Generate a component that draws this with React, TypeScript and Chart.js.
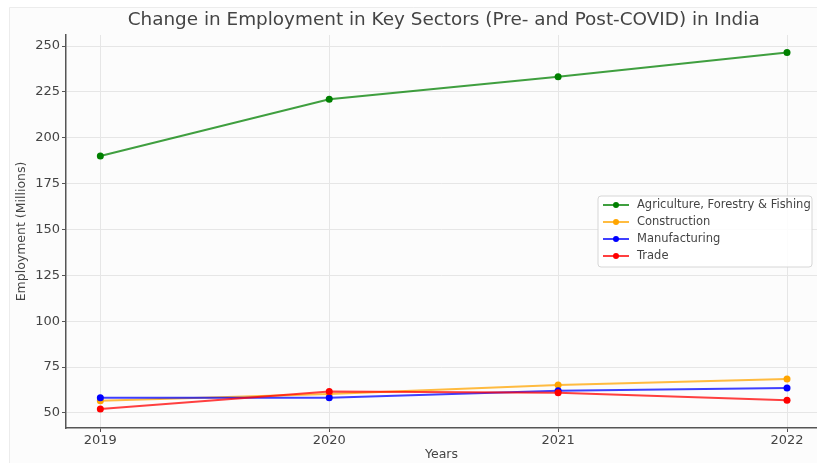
import React, { useEffect, useRef } from "react";
import { Chart, registerables } from "chart.js";

Chart.register(...registerables);

const years = [2019, 2020, 2021, 2022];
const agriculture = [190.1, 221.0, 233.2, 246.4];
const construction = [56.6, 60.3, 65.2, 68.5];
const manufacturing = [58.3, 58.3, 62.1, 63.6];
const trade = [52.2, 61.7, 61.0, 56.9];

const seriesNames = [
  "Agriculture, Forestry & Fishing",
  "Construction",
  "Manufacturing",
  "Trade",
];
const seriesValues = [agriculture, construction, manufacturing, trade];
const seriesColors = ["#008000", "#FFA500", "#0000FF", "#FF0000"];

const yTicks = [50, 75, 100, 125, 150, 175, 200, 225, 250];

const chartTitle = "Change in Employment in Key Sectors (Pre- and Post-COVID) in India";
const xTitle = "Years";
const yTitle = "Employment (Millions)";

const FONT = "'DejaVu Sans', 'Liberation Sans', sans-serif";
const TEXT = "#444444";
const SPINE = "#555555";
const GRID = "#e6e6e6";

const W = 817;
const H = 463;

const decorPlugin = {
  id: "decor",
  beforeDraw(chart: any) {
    const ctx = chart.ctx;
    ctx.save();
    ctx.fillStyle = "#ffffff";
    ctx.fillRect(0, 0, chart.width, chart.height);
    ctx.fillStyle = "#fcfcfc";
    ctx.fillRect(9, 7, chart.width - 9, chart.height - 7);
    ctx.strokeStyle = "#ececec";
    ctx.lineWidth = 1;
    ctx.beginPath();
    ctx.moveTo(9.5, chart.height);
    ctx.lineTo(9.5, 7.5);
    ctx.lineTo(chart.width, 7.5);
    ctx.stroke();
    ctx.restore();
  },
  afterDraw(chart: any) {
    const ctx = chart.ctx;
    const area = chart.chartArea;
    const xs = chart.scales.x;
    ctx.save();
    // Title centered over the (matplotlib) axes
    const cx = (xs.getPixelForValue(2018.85) + xs.getPixelForValue(2022.15)) / 2;
    ctx.fillStyle = TEXT;
    ctx.font = `18.4px ${FONT}`;
    ctx.textAlign = "center";
    ctx.textBaseline = "middle";
    ctx.fillText(chartTitle, cx, 20);

    // Legend (center right)
    const boxW = 214;
    const rowH = 17;
    const boxH = 71;
    const bx = area.right - 5 - boxW;
    const by = (area.top + area.bottom) / 2 - boxH / 2;
    ctx.beginPath();
    const r = 3;
    ctx.moveTo(bx + r, by);
    ctx.lineTo(bx + boxW - r, by);
    ctx.quadraticCurveTo(bx + boxW, by, bx + boxW, by + r);
    ctx.lineTo(bx + boxW, by + boxH - r);
    ctx.quadraticCurveTo(bx + boxW, by + boxH, bx + boxW - r, by + boxH);
    ctx.lineTo(bx + r, by + boxH);
    ctx.quadraticCurveTo(bx, by + boxH, bx, by + boxH - r);
    ctx.lineTo(bx, by + r);
    ctx.quadraticCurveTo(bx, by, bx + r, by);
    ctx.closePath();
    ctx.fillStyle = "rgba(255,255,255,0.85)";
    ctx.fill();
    ctx.strokeStyle = "#d6d6d6";
    ctx.lineWidth = 1;
    ctx.stroke();

    ctx.font = `11.5px ${FONT}`;
    ctx.textAlign = "left";
    ctx.textBaseline = "middle";
    seriesNames.forEach((name, i) => {
      const y = by + 9 + rowH * i;
      const x0 = bx + 5;
      const x1 = x0 + 26;
      ctx.strokeStyle = seriesColors[i];
      ctx.globalAlpha = 0.75;
      ctx.lineWidth = 2;
      ctx.beginPath();
      ctx.moveTo(x0, y);
      ctx.lineTo(x1, y);
      ctx.stroke();
      ctx.globalAlpha = 1;
      ctx.fillStyle = seriesColors[i];
      ctx.beginPath();
      ctx.arc((x0 + x1) / 2, y, 3, 0, Math.PI * 2);
      ctx.fill();
      ctx.fillStyle = TEXT;
      ctx.fillText(name, x1 + 8, y);
    });
    ctx.restore();
  },
};

export default function App() {
  const ref = useRef<HTMLCanvasElement | null>(null);

  useEffect(() => {
    if (!ref.current) return;
    const chart = new Chart(ref.current, {
      type: "line",
      data: {
        datasets: seriesNames.map((name, i) => ({
          label: name,
          data: years.map((yr, j) => ({ x: yr, y: seriesValues[i][j] })),
          borderColor: seriesColors[i] + "C0",
          backgroundColor: seriesColors[i],
          pointBackgroundColor: seriesColors[i],
          pointBorderColor: seriesColors[i],
          pointBorderWidth: 0,
          pointRadius: 3.5,
          borderWidth: 2,
          tension: 0,
          fill: false,
          order: seriesNames.length - 1 - i,
        })),
      },
      options: {
        animation: false,
        responsive: false,
        maintainAspectRatio: false,
        layout: { autoPadding: false, padding: { top: 35, left: 10, right: 0, bottom: 0 } },
        plugins: {
          legend: { display: false },
          tooltip: { enabled: false },
          title: { display: false },
        },
        scales: {
          x: {
            type: "linear",
            min: 2018.85,
            max: 2022.131,
            afterBuildTicks: (s: any) => {
              s.ticks = years.map((v) => ({ value: v }));
            },
            afterFit: (s: any) => {
              s.height = 35;
            },
            ticks: {
              callback: (v: any) => String(v),
              font: { family: FONT, size: 13 },
              color: TEXT,
              padding: 1,
              maxRotation: 0,
              autoSkip: false,
            },
            grid: { color: GRID, tickColor: SPINE, tickLength: 4, lineWidth: 1 },
            border: { color: SPINE, width: 1.5 },
            title: {
              display: true,
              text: xTitle,
              font: { family: FONT, size: 12.5 },
              color: TEXT,
              padding: { top: 0, bottom: 1 },
            },
          },
          y: {
            type: "linear",
            min: 41.8,
            max: 256,
            afterBuildTicks: (s: any) => {
              s.ticks = yTicks.map((v) => ({ value: v }));
            },
            afterFit: (s: any) => {
              s.width = 56;
            },
            ticks: {
              font: { family: FONT, size: 13 },
              color: TEXT,
              padding: 2,
            },
            grid: { color: GRID, tickColor: SPINE, tickLength: 4, lineWidth: 1 },
            border: { color: SPINE, width: 1.5 },
            title: {
              display: true,
              text: yTitle,
              font: { family: FONT, size: 12.5 },
              color: TEXT,
              padding: { top: 4, bottom: 4 },
            },
          },
        },
      },
      plugins: [decorPlugin],
    } as any);
    return () => chart.destroy();
  }, []);

  return (
    <div style={{ position: "absolute", left: 0, top: 0, width: W, height: H, overflow: "hidden" }}>
      <canvas ref={ref} width={W} height={H} style={{ display: "block", width: W, height: H }} />
    </div>
  );
}
